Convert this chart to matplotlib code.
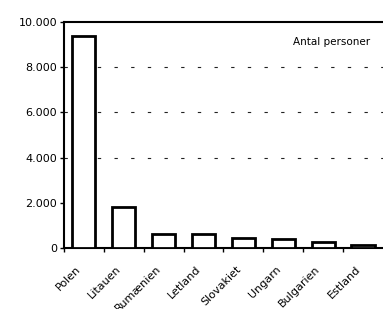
import matplotlib.pyplot as plt
from matplotlib.ticker import FuncFormatter

lande = ['Polen', 'Litauen', 'Rumænien', 'Letland', 'Slovakiet', 'Ungarn', 'Bulgarien', 'Estland']
personer = [9400, 1800, 620, 610, 440, 400, 270, 150]
y_ticks = [0, 2000, 4000, 6000, 8000, 10000]

plt.rcParams['font.family'] = ['DejaVu Sans']

fig = plt.figure(figsize=(3.83, 3.09), dpi=100)
ax = fig.add_axes([0.167, 0.197, 0.833, 0.732])

x = range(len(lande))
ax.bar(x, personer, width=0.58, color='white', edgecolor='black', linewidth=2, zorder=3)

ax.set_xlim(-0.5, len(lande) - 0.5)
ax.set_ylim(0, 10000)
ax.set_yticks(y_ticks)
ax.yaxis.set_major_formatter(FuncFormatter(lambda v, p: f'{int(v):,}'.replace(',', '.')))

for y in y_ticks[2:5]:
    ax.axhline(y, color='#222222', linewidth=0.8, linestyle=(0, (3, 12)), zorder=1)

# category ticks sit between the bars
ax.set_xticks([i - 0.5 for i in x])
ax.set_xticklabels([])
ax.tick_params(axis='x', length=3, width=1, direction='out')
ax.tick_params(axis='y', length=3, width=1, direction='out', labelsize=8, pad=2)
for i, navn in enumerate(lande):
    ax.text(i - 0.2, -700, navn, rotation=45, ha='right', va='top',
            rotation_mode='anchor', fontsize=8)

for side in ['left', 'top', 'bottom']:
    ax.spines[side].set_linewidth(1.5)
ax.spines['right'].set_visible(False)

ax.text(0.96, 0.91, 'Antal personer', transform=ax.transAxes, ha='right', va='center', fontsize=7.5)

fig.savefig('out.png', dpi=100)
